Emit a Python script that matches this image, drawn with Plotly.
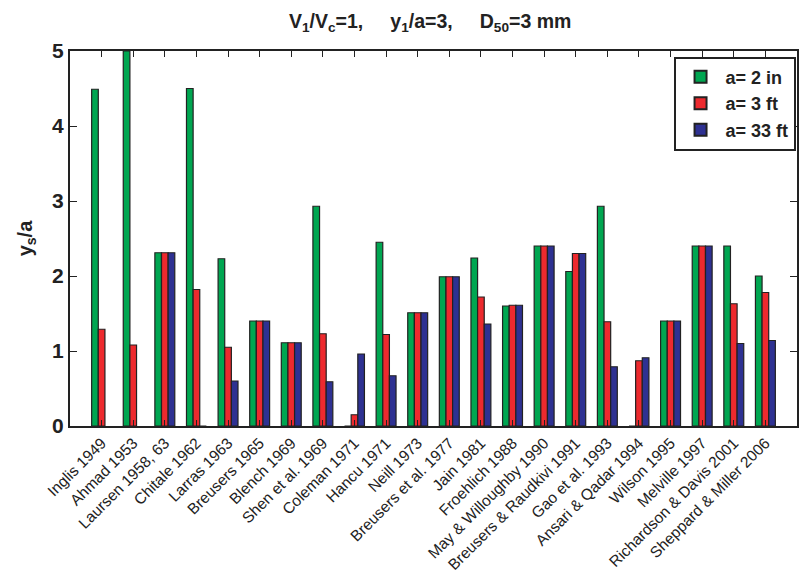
import plotly.graph_objects as go

categories = ["Inglis 1949", "Ahmad 1953", "Laursen 1958, 63", "Chitale 1962", "Larras 1963",
              "Breusers 1965", "Blench 1969", "Shen et al. 1969", "Coleman 1971", "Hancu 1971",
              "Neill 1973", "Breusers et al. 1977", "Jain 1981", "Froehlich 1988",
              "May & Willoughby 1990", "Breusers & Raudkivi 1991", "Gao et al. 1993",
              "Ansari & Qadar 1994", "Wilson 1995", "Melville 1997", "Richardson & Davis 2001",
              "Sheppard & Miller 2006"]

a_2in = [4.49, 5.0, 2.31, 4.50, 2.23, 1.40, 1.11, 2.93, 0.0, 2.45, 1.51, 1.99, 2.24, 1.60,
         2.40, 2.06, 2.93, 0.0, 1.40, 2.40, 2.40, 2.00]
a_3ft = [1.29, 1.08, 2.31, 1.82, 1.05, 1.40, 1.11, 1.23, 0.15, 1.22, 1.51, 1.99, 1.72, 1.61,
         2.40, 2.30, 1.39, 0.87, 1.40, 2.40, 1.63, 1.78]
a_33ft = [None, None, 2.31, 0.0, 0.60, 1.40, 1.11, 0.59, 0.96, 0.67, 1.51, 1.99, 1.36, 1.61,
          2.40, 2.30, 0.79, 0.91, 1.40, 2.40, 1.10, 1.14]

series = [("a= 2 in", a_2in, "#00a651"),
          ("a= 3 ft", a_3ft, "#ed2a2e"),
          ("a= 33 ft", a_33ft, "#2e3192")]

xpos = list(range(1, len(categories) + 1))

fig = go.Figure()
for name, vals, col in series:
    fig.add_trace(go.Bar(x=xpos, y=vals, name="<b>" + name + "</b>", marker_color=col,
                         marker_line=dict(color="#222222", width=1.2)))

fig.update_layout(
    width=801, height=573,
    margin=dict(l=70, r=4, t=51, b=147, autoexpand=False),
    paper_bgcolor="white", plot_bgcolor="white",
    barmode="group", bargap=0.37, bargroupgap=0.0,
    font=dict(family="Liberation Sans, Arial, sans-serif", color="#222222"),
    title=dict(text="<b>V<sub>1</sub>/V<sub>c</sub>=1,     y<sub>1</sub>/a=3,     D<sub>50</sub>=3 mm</b>",
               x=0.537, xanchor="center", y=0.975, yanchor="top",
               font=dict(size=19.5, color="#222222")),
    legend=dict(x=0.998, xanchor="right", y=0.985, yanchor="top",
                bgcolor="white", bordercolor="#222222", borderwidth=2,
                font=dict(size=18, color="#222222"), tracegroupgap=4,
                itemsizing="constant", itemwidth=40),
    showlegend=True,
)

fig.update_xaxes(range=[0, 23], tickmode="array", tickvals=xpos, ticktext=categories,
                 tickangle=-45, tickfont=dict(size=15.5, color="#222222"),
                 ticks="inside", ticklen=6, tickcolor="#222222",
                 showline=True, linecolor="#222222", linewidth=2, mirror="allticks",
                 showgrid=False, zeroline=False, automargin=False)
fig.update_yaxes(range=[0, 5], tickmode="array", tickvals=[0, 1, 2, 3, 4, 5],
                 ticktext=["<b>0</b>", "<b>1</b>", "<b>2</b>", "<b>3</b>", "<b>4</b>", "<b>5</b>"],
                 tickfont=dict(size=21, color="#222222"),
                 ticks="inside", ticklen=7, tickcolor="#222222",
                 showline=True, linecolor="#222222", linewidth=2, mirror="allticks",
                 showgrid=False, zeroline=False, automargin=False,
                 title=dict(text="<b>y<sub>s</sub>/a</b>", font=dict(size=20, color="#222222"),
                            standoff=14))

fig.write_html("out.html", post_script="document.body.style.margin='0';",
               config={"displayModeBar": False})
